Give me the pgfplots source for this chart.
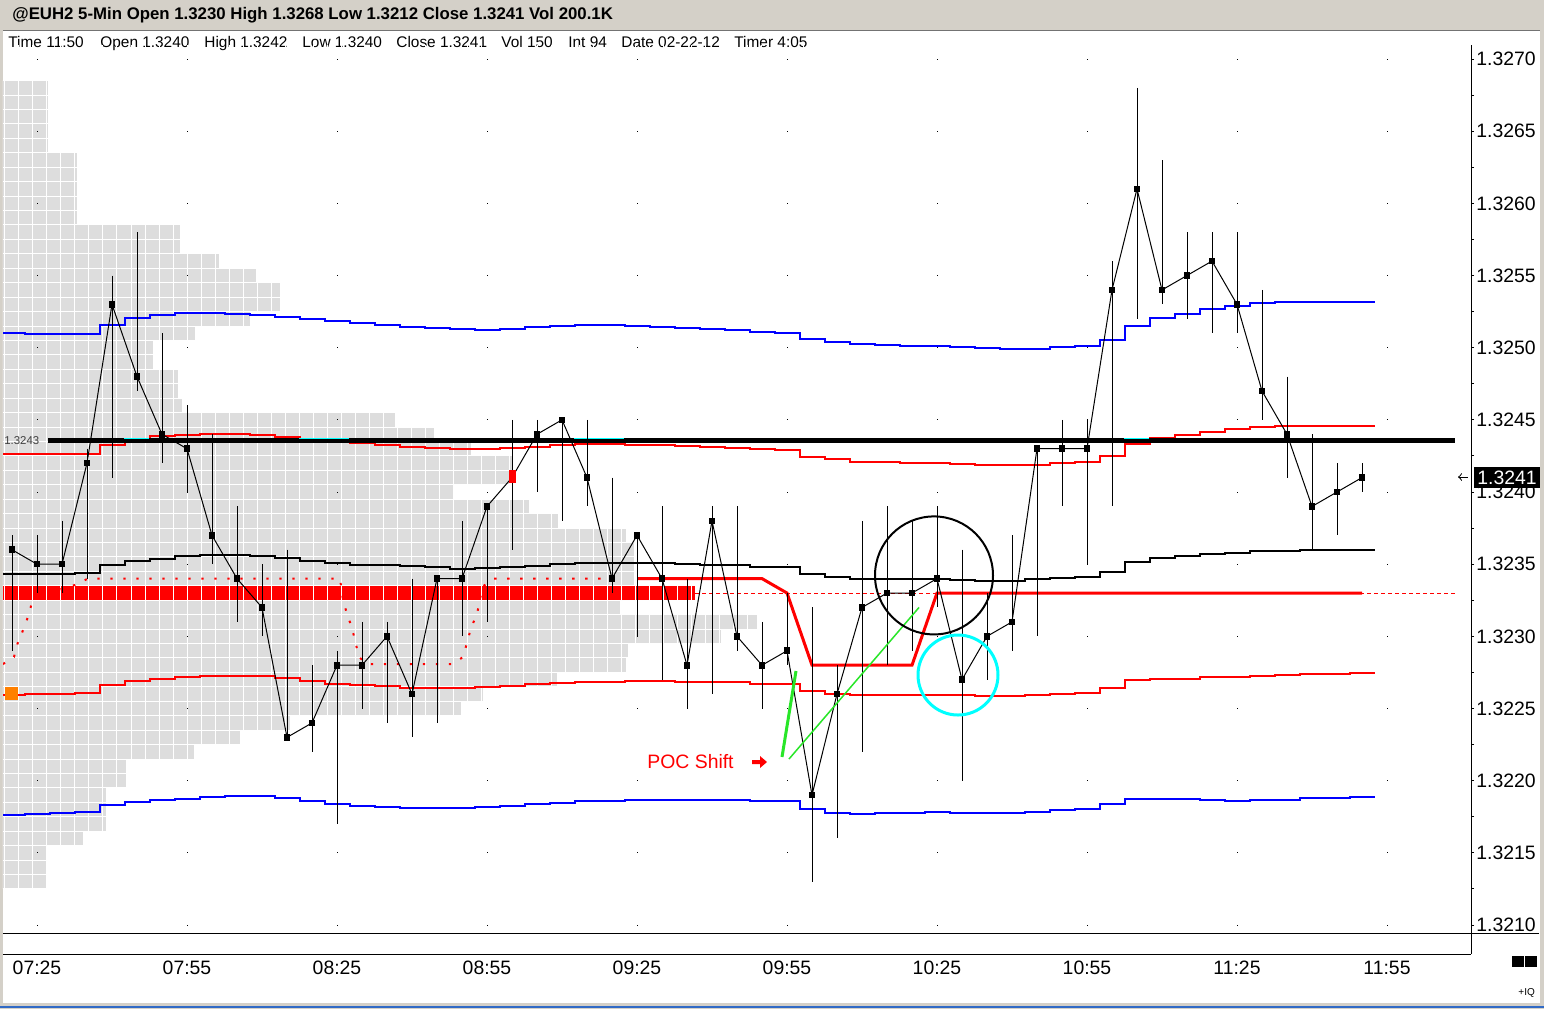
\documentclass[border=0pt]{standalone}
\usepackage{fontspec}
\setmainfont{Liberation Sans}
\usepackage{pgfplots}
\usepackage{pgfplotstable}
\pgfplotsset{compat=1.18}

\definecolor{wingray}{RGB}{212,208,200}
\definecolor{profgray}{RGB}{221,221,221}
\definecolor{mtblue}{RGB}{0,0,255}
\definecolor{mtred}{RGB}{255,0,0}
\definecolor{mtgreen}{RGB}{40,230,40}
\definecolor{mtcyan}{RGB}{0,255,255}
\definecolor{mtorange}{RGB}{255,128,0}
\definecolor{taskblue}{RGB}{49,106,197}

% 5-min bars: index 0 = 07:25
\pgfplotstableread{
i  h      l      c
-1 1.3237 1.3229 1.3236
0  1.3237 1.3233 1.3235
1  1.3238 1.3233 1.3235
2  1.3243 1.3234 1.3242
3  1.3255 1.3241 1.3253
4  1.3258 1.3247 1.3248
5  1.3251 1.3242 1.3244
6  1.3246 1.3240 1.3243
7  1.3244 1.3235 1.3237
8  1.3239 1.3231 1.3234
9  1.3235 1.3230 1.3232
10 1.3236 1.3223 1.3223
11 1.3228 1.3222 1.3224
12 1.3229 1.3217 1.3228
13 1.3231 1.3225 1.3228
14 1.3231 1.3224 1.3230
15 1.3234 1.3223 1.3226
16 1.3234 1.3224 1.3234
17 1.3238 1.3230 1.3234
18 1.3239 1.3231 1.3239
19 1.3245 1.3236 1.3241
20 1.3245 1.3240 1.3244
21 1.3245 1.3238 1.3245
22 1.3245 1.3239 1.3241
23 1.3241 1.3233 1.3234
24 1.3237 1.3230 1.3237
25 1.3239 1.3227 1.3234
26 1.3234 1.3225 1.3228
27 1.3239 1.3226 1.3238
28 1.3239 1.3229 1.3230
29 1.3231 1.3225 1.3228
30 1.3233 1.3228 1.3229
31 1.3232 1.3213 1.3219
32 1.3228 1.3216 1.3226
33 1.3238 1.3222 1.3232
34 1.3239 1.3228 1.3233
35 1.3238 1.3229 1.3233
36 1.3239 1.3232 1.3234
37 1.3236 1.3220 1.3227
38 1.3233 1.3227 1.3230
39 1.3237 1.3229 1.3231
40 1.3243 1.3230 1.3243
41 1.3245 1.3239 1.3243
42 1.3245 1.3235 1.3243
43 1.3256 1.3239 1.3254
44 1.3268 1.3252 1.3261
45 1.3263 1.3253 1.3254
46 1.3258 1.3252 1.3255
47 1.3258 1.3251 1.3256
48 1.3258 1.3251 1.3253
49 1.3254 1.3245 1.3247
50 1.3248 1.3241 1.3244
51 1.3244 1.3236 1.3239
52 1.3242 1.3237 1.3240
53 1.3242 1.3240 1.3241
}\bars

% bands, one value per bar, starting at the left edge of the bar
\pgfplotstableread{
x    bu       bl       ru       rl       vw
-1.5 1.325105 1.321764 1.324263 1.322596 1.323434
-0.5 1.325098 1.321771 1.324263 1.322603 1.323434
0.5  1.325098 1.321778 1.324263 1.322603 1.323434
1.5  1.325098 1.321785 1.324263 1.322610 1.323441
2.5  1.325157 1.321834 1.324326 1.322665 1.323496
3.5  1.325208 1.321854 1.324362 1.322691 1.323522
4.5  1.325229 1.321868 1.324386 1.322707 1.323538
5.5  1.325240 1.321875 1.324395 1.322720 1.323559
6.5  1.325240 1.321889 1.324404 1.322727 1.323566
7.5  1.325235 1.321896 1.324404 1.322727 1.323566
8.5  1.325229 1.321896 1.324397 1.322727 1.323559
9.5  1.325213 1.321882 1.324383 1.322713 1.323545
10.5 1.325201 1.321861 1.324365 1.322693 1.323524
11.5 1.325187 1.321840 1.324353 1.322672 1.323510
12.5 1.325173 1.321827 1.324337 1.322665 1.323496
13.5 1.325159 1.321820 1.324326 1.322658 1.323496
14.5 1.325145 1.321813 1.324312 1.322644 1.323489
15.5 1.325139 1.321813 1.324305 1.322644 1.323483
16.5 1.325132 1.321813 1.324298 1.322644 1.323469
17.5 1.325125 1.321820 1.324298 1.322651 1.323476
18.5 1.325132 1.321827 1.324305 1.322658 1.323483
19.5 1.325145 1.321840 1.324314 1.322672 1.323489
20.5 1.325152 1.321847 1.324324 1.322679 1.323503
21.5 1.325159 1.321861 1.324331 1.322686 1.323510
22.5 1.325159 1.321861 1.324331 1.322686 1.323510
23.5 1.325152 1.321868 1.324326 1.322693 1.323508
24.5 1.325145 1.321868 1.324326 1.322693 1.323508
25.5 1.325139 1.321868 1.324319 1.322686 1.323503
26.5 1.325132 1.321868 1.324312 1.322686 1.323496
27.5 1.325125 1.321868 1.324305 1.322686 1.323496
28.5 1.325111 1.321861 1.324298 1.322672 1.323483
29.5 1.325104 1.321861 1.324291 1.322672 1.323483
30.5 1.325062 1.321806 1.324245 1.322623 1.323434
31.5 1.325042 1.321778 1.324227 1.322603 1.323413
32.5 1.325028 1.321771 1.324210 1.322592 1.323399
33.5 1.325021 1.321778 1.324210 1.322592 1.323399
34.5 1.325014 1.321778 1.324203 1.322592 1.323399
35.5 1.325014 1.321785 1.324203 1.322592 1.323399
36.5 1.325007 1.321778 1.324196 1.322592 1.323392
37.5 1.325000 1.321778 1.324189 1.322585 1.323386
38.5 1.324993 1.321778 1.324189 1.322585 1.323386
39.5 1.324993 1.321785 1.324187 1.322592 1.323397
40.5 1.325007 1.321799 1.324199 1.322603 1.323401
41.5 1.325014 1.321806 1.324210 1.322610 1.323408
42.5 1.325053 1.321840 1.324250 1.322644 1.323448
43.5 1.325152 1.321875 1.324331 1.322700 1.323517
44.5 1.325208 1.321875 1.324376 1.322707 1.323543
45.5 1.325231 1.321875 1.324393 1.322707 1.323557
46.5 1.325270 1.321868 1.324416 1.322720 1.323568
47.5 1.325289 1.321861 1.324439 1.322720 1.323580
48.5 1.325310 1.321868 1.324448 1.322727 1.323589
49.5 1.325314 1.321868 1.324457 1.322734 1.323593
50.5 1.325314 1.321882 1.324457 1.322741 1.323596
51.5 1.325314 1.321882 1.324457 1.322741 1.323600
52.5 1.325314 1.321889 1.324457 1.322748 1.323600
53.5 1.325314 1.321889 1.324457 1.322748 1.323600
}\bands

% volume profile: price level, right edge of the row (px)
\pgfplotstableread{
p      w
1.3268 49
1.3267 49
1.3266 49
1.3265 49
1.3264 49
1.3263 78
1.3262 78
1.3261 78
1.3260 78
1.3259 78
1.3258 180
1.3257 180
1.3256 219
1.3255 256
1.3254 280
1.3253 280
1.3252 250
1.3251 195
1.3250 153
1.3249 153
1.3248 178
1.3247 178
1.3246 182
1.3245 395
1.3244 434
1.3243 471
1.3242 513
1.3241 510
1.3240 453
1.3239 529
1.3238 558
1.3237 626
1.3236 634
1.3235 634
1.3234 634
1.3232 620
1.3231 757
1.3230 721
1.3229 628
1.3228 626
1.3227 557
1.3226 483
1.3225 461
1.3224 290
1.3223 240
1.3222 194
1.3221 126
1.3220 126
1.3219 107
1.3218 107
1.3217 107
1.3216 84
1.3215 48
1.3214 48
1.3213 48
}\profile

\begin{document}
\begin{tikzpicture}[x=0.5pt,y=0.5pt]
\useasboundingbox (0,0) rectangle (1544,-1009);
\fill[wingray] (0,0) rectangle (1544,-1009);
\fill[white] (3,-30) rectangle (1540,-1003);
\draw[black!55, line width=0.5pt] (3,-30.25) -- (1540,-30.25);
\draw[taskblue, line width=1pt] (0,-1006.5) -- (1544,-1006.5);

\node[anchor=base west, inner sep=0pt, font=\bfseries\fontsize{8.4}{10}\selectfont]
  at (12,-19) {@EUH2 5-Min Open 1.3230 High 1.3268 Low 1.3212 Close 1.3241 Vol 200.1K};
\foreach \xx/\txt in {8/Time 11:50, 100/Open 1.3240, 204/High 1.3242, 302/Low 1.3240,
  396/Close 1.3241, 501/Vol 150, 568/Int 94, 621/Date 02-22-12, 734/Timer 4:05}
  \node[anchor=base west, inner sep=0pt, font=\fontsize{7.7}{9}\selectfont] at (\xx,-47) {\txt};

% volume profile
\begin{axis}[
  at={(1.5pt,-477pt)}, anchor=south west, scale only axis,
  width=734pt, height=454.5pt,
  xmin=3, xmax=1471, ymin=1.320799, ymax=1.327097,
  axis line style={draw=none}, major tick length=0pt,
  xtick={5,19,...,1471}, ytick=\empty, xticklabels={},
  xmajorgrids, grid style={white, line width=0.5pt},
  axis on top,
]
\addplot[xbar, bar width=0.0001, fill=profgray, draw=white, line width=0.5pt]
  table[x=w, y=p] {\profile};
\addplot[xbar, bar width=0.0001, fill=mtred, draw=white, line width=0.5pt]
  coordinates {(695,1.3233)};
\end{axis}

% price pane
\begin{axis}[
  at={(1.5pt,-477pt)}, anchor=south west, scale only axis,
  width=734pt, height=454.5pt,
  xmin=-1.36, xmax=57.36, ymin=1.320799, ymax=1.327097,
  axis x line*=bottom, axis y line*=right,
  axis line style={line width=0.5pt},
  xtick={0,6,...,54},
  xticklabels={07:25,07:55,08:25,08:55,09:25,09:55,10:25,10:55,11:25,11:55},
  xtick style={draw=none},
  ytick={1.3210,1.3215,1.3220,1.3225,1.3230,1.3235,1.3240,1.3245,1.3250,1.3255,1.3260,1.3265,1.3270},
  minor y tick num=1,
  tick align=outside, major tick length=1.5pt, minor tick length=1.5pt,
  tick style={black, line width=0.5pt},
  ticklabel style={font=\fontsize{9.7}{11}\selectfont, inner sep=0pt},
  xticklabel style={yshift=-2pt},
  yticklabel style={anchor=west, xshift=1pt,
    /pgf/number format/.cd, fixed, fixed zerofill, precision=4, assume math mode=true},
  ymajorgrids,
  grid style={black, line width=0.5pt, dash pattern=on 0.5pt off 74.5pt, dash phase=58pt},
]
\addplot[mtblue, line width=1pt, const plot mark left] table[x=x, y=bu] {\bands};
\addplot[mtblue, line width=1pt, const plot mark left] table[x=x, y=bl] {\bands};
\addplot[mtred, line width=1pt, const plot mark left] table[x=x, y=ru] {\bands};
\addplot[mtred, line width=1pt, const plot mark left] table[x=x, y=rl] {\bands};
\addplot[black, line width=1pt, const plot mark left] table[x=x, y=vw] {\bands};

% value area outline, dotted
\addplot[mtred, line width=1pt, dash pattern=on 1.2pt off 5.3pt] coordinates {
  (-1.36,1.322808) (-0.92,1.322857) (-0.76,1.322961) (-0.52,1.323058) (-0.32,1.323155)
  (-0.16,1.323266) (1.52,1.323356) (2.04,1.3234) (12.12,1.3234) (12.24,1.323252)
  (12.4,1.323155) (12.6,1.323058) (12.88,1.322857) (13.2,1.322808) (16.64,1.322808)
  (17.04,1.322857) (17.2,1.322954) (17.36,1.323058) (17.6,1.323155) (17.72,1.323252)
  (17.8,1.323342) (18.28,1.3234) (23.32,1.3234)};
\addplot[mtred, line width=0.5pt, dash pattern=on 2pt off 1.5pt] coordinates {(26.32,1.3233) (56.72,1.3233)};

% level line (labelled 1.3243)
\addplot[black, line width=2.5pt] coordinates {(0.44,1.32436) (56.72,1.32436)};
\addplot[mtcyan, line width=0.75pt, unbounded coords=jump] coordinates {
  (3.48,1.32437) (4.48,1.32437) (4.48,nan) (10.48,1.32437) (12.48,1.32437) (12.48,nan)
  (21.48,1.32437) (23.48,1.32437) (23.48,nan) (43.48,1.32437) (44.48,1.32437)};

% POC line
\addplot[mtred, line width=1.5pt] coordinates {
  (24,1.3234) (29,1.3234) (30,1.3233) (31,1.3228) (35,1.3228) (36,1.3233) (53,1.3233)};

% bars: high-low
\addplot[draw=none, mark=none, error bars/.cd, y dir=minus, y explicit,
  error mark=none, error bar style={draw=black, solid, line width=0.5pt}]
  table[x=i, y=h, y error expr=\thisrow{h}-\thisrow{l}] {\bars};
% closes
\addplot[black, line width=0.5pt, mark=square*, mark size=1.4pt] table[x=i, y=c] {\bars};

% drawn notes
\addplot[mtgreen, line width=1.5pt] coordinates {(29.8,1.322164) (30.36,1.322760)};
\addplot[mtgreen, line width=0.75pt] coordinates {(30.08,1.322150) (35.28,1.323200)};
\draw[black, line width=1pt] (axis cs:35.88,1.323422) circle[radius=29.5pt];
\draw[mtcyan, line width=1.5pt] (axis cs:36.84,1.322732) circle[radius=20pt];
\end{axis}

\fill[mtred] (509,-470) rectangle (516,-483);
\fill[mtorange] (5,-687) rectangle (18,-700);
\node[anchor=west, inner sep=0pt, font=\fontsize{5.7}{7}\selectfont, text=black!75] at (4,-441) {1.3243};

\node[anchor=west, inner sep=0pt, text=mtred, font=\fontsize{9.7}{11}\selectfont] at (647,-762) {POC Shift};
\fill[mtred] (752,-760) -- (760,-760) -- (760,-756) -- (767,-762) -- (760,-768) -- (760,-764) -- (752,-764) -- cycle;

\draw[black, line width=0.5pt] (3,-933.5) -- (1539,-933.5);

\fill[black] (1474,-467) rectangle (1540,-488);
\node[anchor=west, inner sep=0pt, text=white, font=\fontsize{9.7}{11}\selectfont] at (1477,-477.5) {1.3241};
\draw[black, line width=0.5pt, <-] (1458,-477) -- (1468,-477);

\fill[black] (1512,-956) rectangle (1524,-967);
\fill[black] (1525,-956) rectangle (1537,-967);
\node[anchor=west, inner sep=0pt, font=\fontsize{5}{6}\selectfont] at (1518,-993) {+IQ};
\end{tikzpicture}
\end{document}
